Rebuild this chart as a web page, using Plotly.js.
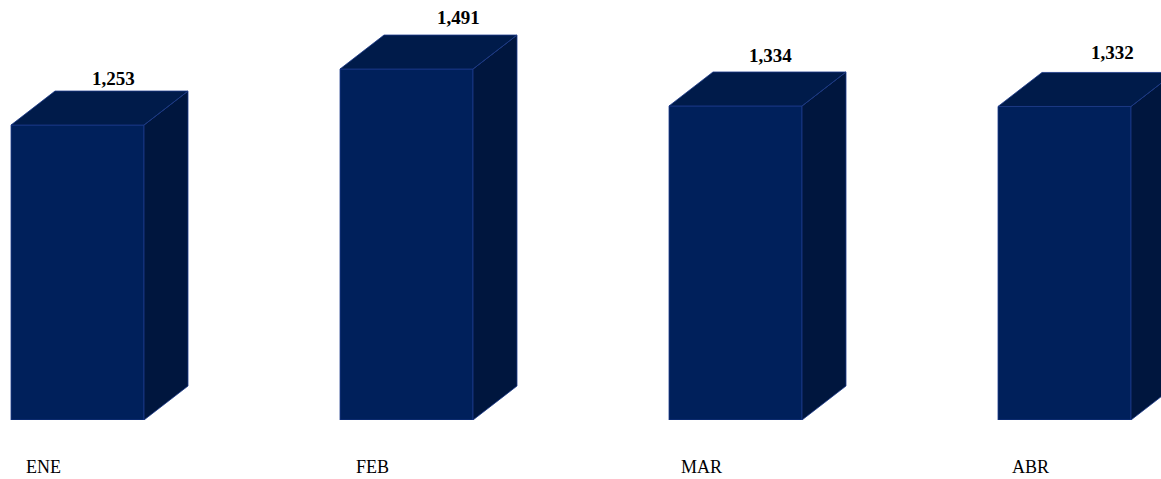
<!DOCTYPE html>
<html>
<head>
<meta charset="utf-8">
<script src="https://cdn.plot.ly/plotly-3.0.1.min.js"></script>
<style>html,body{margin:0;padding:0;background:#fff;}#chart{width:1161px;height:479px;}</style>
</head>
<body>
<div id="chart"></div>
<script>
// Data
const months = ["ENE", "FEB", "MAR", "ABR"];
const values = [1253, 1491, 1334, 1332];

// Styling / geometry constants (pixel-based, converted through scales)
const W = 1161, H = 479, BOTTOM = 59;
const PX_PER_CAT = 329;
const FIRST_CENTER_PX = 77.5;
const BAR_PX = 133;
const DEPTH_X_PX = 44, DEPTH_Y_PX = 34;
const Y_PX_PER_UNIT = 0.2354;
const valueLabelShiftPx = [36, 52, 35, 48];
const valueLabelLiftPx = [13, 18, 16, 20];
const catLabelShiftPx = -34;

const frontColor = "rgb(0,32,91)";
const topColor = "rgb(0,27,74)";
const sideColor = "rgb(0,22,62)";
const edgeColor = "rgb(28,58,138)";

const plotH = H - BOTTOM;
const xr = [-FIRST_CENTER_PX / PX_PER_CAT, (W - FIRST_CENTER_PX) / PX_PER_CAT];
const yr = [0, plotH / Y_PX_PER_UNIT];
const bw = BAR_PX / PX_PER_CAT;
const dx = DEPTH_X_PX / PX_PER_CAT;
const dy = DEPTH_Y_PX / Y_PX_PER_UNIT;

const xs = months.map((m, i) => i);
const traces = [];

// side and top faces
months.forEach((m, i) => {
  const v = values[i];
  const l = i - bw / 2, r = i + bw / 2;
  traces.push({
    type: "scatter", mode: "lines", fill: "toself",
    x: [r, r + dx, r + dx, r, r],
    y: [0, dy, v + dy, v, 0],
    fillcolor: sideColor, line: {color: edgeColor, width: 0.8},
    hoverinfo: "skip", showlegend: false
  });
  traces.push({
    type: "scatter", mode: "lines", fill: "toself",
    x: [l, l + dx, r + dx, r, l],
    y: [v, v + dy, v + dy, v, v],
    fillcolor: topColor, line: {color: edgeColor, width: 0.8},
    hoverinfo: "skip", showlegend: false
  });
});

// front faces
traces.push({
  type: "bar", x: xs, y: values, width: bw,
  marker: {color: frontColor, line: {color: edgeColor, width: 0.8}},
  hoverinfo: "skip", showlegend: false
});

const annotations = [];
months.forEach((m, i) => {
  annotations.push({
    xref: "x", yref: "y", x: i, y: values[i] + dy,
    xshift: valueLabelShiftPx[i], yshift: valueLabelLiftPx[i],
    text: "<b>" + values[i].toLocaleString("en-US") + "</b>",
    showarrow: false, xanchor: "center", yanchor: "middle",
    font: {family: "Liberation Serif, Times New Roman, serif", size: 19, color: "#000"}
  });
  annotations.push({
    xref: "x", yref: "paper", x: i, y: 0,
    xshift: catLabelShiftPx, yshift: -47,
    text: m, showarrow: false, xanchor: "center", yanchor: "middle",
    font: {family: "Liberation Serif, Times New Roman, serif", size: 18, color: "#000"}
  });
});

const layout = {
  width: W, height: H,
  margin: {l: 0, r: 0, t: 0, b: BOTTOM, pad: 0},
  paper_bgcolor: "#fff", plot_bgcolor: "#fff",
  xaxis: {range: xr, visible: false, fixedrange: true},
  yaxis: {range: yr, visible: false, fixedrange: true},
  annotations: annotations,
  showlegend: false
};

Plotly.newPlot("chart", traces, layout, {staticPlot: true, displayModeBar: false});
</script>
</body>
</html>
